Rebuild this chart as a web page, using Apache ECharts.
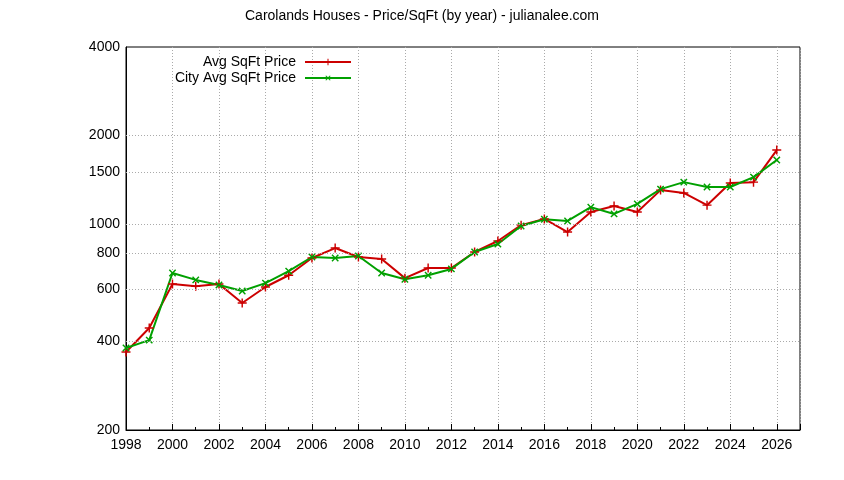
<!DOCTYPE html>
<html><head><meta charset="utf-8">
<script src="https://cdn.jsdelivr.net/npm/echarts@6/dist/echarts.min.js"></script>
<style>html,body{margin:0;padding:0;background:#fff}#c{width:844px;height:480px}</style>
</head><body><div id="c"></div>
<script>
const years=[1998,1999,2000,2001,2002,2003,2004,2005,2006,2007,2008,2009,2010,2011,2012,2013,2014,2015,2016,2017,2018,2019,2020,2021,2022,2023,2024,2025,2026];
const avgPrice=[368,444,627,616,627,540,612,671,768,830,774,762,656,710,710,805,877,993,1042,941,1100,1154,1100,1306,1277,1161,1380,1390,1786];
const cityPrice=[380,404,683,647,622,593,631,693,774,768,780,683,650,671,705,805,857,986,1040,1026,1143,1084,1172,1316,1390,1338,1338,1446,1652];
const yTicks=[200,400,600,800,1000,1500,2000,4000];
const F='Liberation Sans, Arial, sans-serif';
const chart=echarts.init(document.getElementById('c'));
const plus='path://M4.2,0H5.8V4.2H10V5.8H5.8V10H4.2V5.8H0V4.2H4.2Z';
chart.setOption({
 animation:false,
 title:{text:'Carolands Houses - Price/SqFt (by year) - julianalee.com',left:'center',top:4,textStyle:{fontFamily:F,fontSize:14,fontWeight:'normal',color:'#000'}},
 grid:{left:126,right:44,top:47,bottom:50,show:true,borderColor:'#000',borderWidth:1},
 legend:[
  {data:['Avg SqFt Price'],right:487,top:50,align:'right',itemGap:0,itemWidth:46,itemHeight:8,textStyle:{fontFamily:F,fontSize:14,color:'#000',padding:[0,4,0,0]}},
  {data:['City Avg SqFt Price'],right:487,top:66,align:'right',itemGap:0,itemWidth:46,itemHeight:8,textStyle:{fontFamily:F,fontSize:14,color:'#000',padding:[0,4,0,0]}}],
 xAxis:{type:'value',min:1998,max:2027,interval:2,
  axisLine:{lineStyle:{color:'#000'}},axisTick:{inside:true,length:6,lineStyle:{color:'#000'}},
  minorTick:{show:true,splitNumber:2,length:3,lineStyle:{color:'#000'}},
  axisLabel:{fontFamily:F,fontSize:14,color:'#000',formatter:v=>v%2===0?String(v):''},
  splitLine:{show:true,lineStyle:{color:'#aaa',type:[1,2]}}},
 yAxis:{type:'log',logBase:10,min:200,max:4000,axisLabel:{show:false},splitLine:{show:false},
  axisLine:{lineStyle:{color:'#000'}},axisTick:{show:false}},
 series:[
  {name:'Avg SqFt Price',type:'line',data:years.map((y,i)=>[y,avgPrice[i]]),color:'#cc0000',
   lineStyle:{width:2,color:'#cc0000'},symbol:plus,symbolSize:9,itemStyle:{color:'#cc0000'},
   markLine:{silent:true,symbol:'none',animation:false,
    lineStyle:{color:'#aaa',type:[1,2],width:1},
    label:{position:'start',distance:6,fontFamily:F,fontSize:14,color:'#000',formatter:p=>String(p.value)},
    data:yTicks.map(v=>({yAxis:v,lineStyle:(v===200||v===4000)?{color:'rgba(0,0,0,0)'}:undefined}))}},
  {name:'City Avg SqFt Price',type:'line',data:years.map((y,i)=>[y,cityPrice[i]]),color:'#00a000',
   lineStyle:{width:2,color:'#00a000'},symbol:plus,symbolRotate:45,symbolSize:9,itemStyle:{color:'#00a000'}}
 ]
});
</script></body></html>
